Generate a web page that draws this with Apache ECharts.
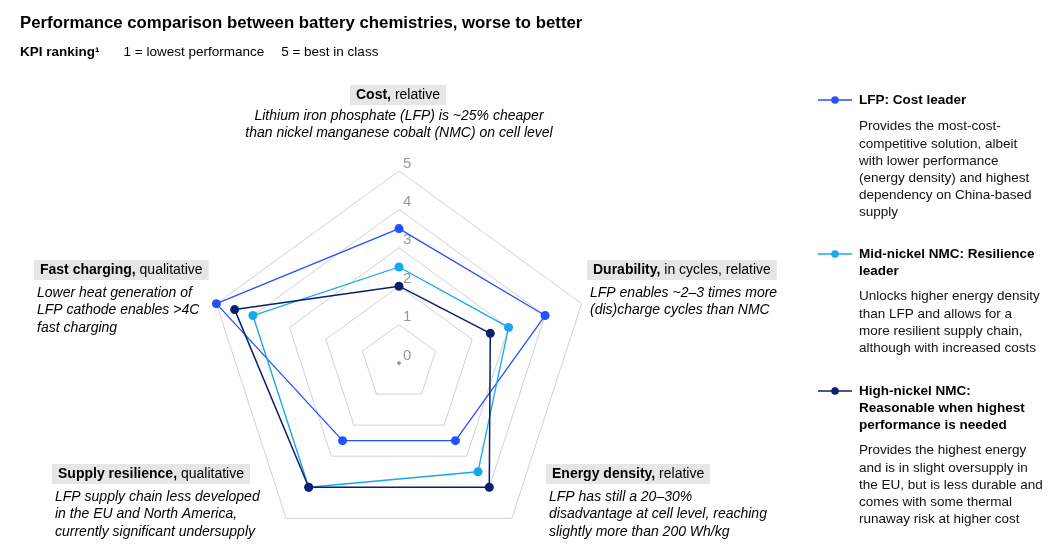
<!DOCTYPE html>
<html>
<head>
<meta charset="utf-8">
<script src="https://cdn.jsdelivr.net/npm/echarts@6/dist/echarts.min.js"></script>
<style>
html,body{margin:0;padding:0;background:#fff;}
#chart{width:1064px;height:557px;}
</style>
</head>
<body>
<div id="chart"></div>
<script>
// Indicators in ECharts (counter-clockwise) order: Cost, Fast charging, Supply resilience, Energy density, Durability
var categories = ['Cost', 'Fast charging', 'Supply resilience', 'Energy density', 'Durability'];
var lfpValues = [3.5, 5, 2.5, 2.5, 4];
var midNickelValues = [2.5, 4, 4, 3.5, 3];
var highNickelValues = [2, 4.5, 4, 4, 2.5];
var originValues = [0, 0, 0, 0, 0];
var seriesNames = ['LFP: Cost leader', 'Mid-nickel NMC: Resilience\nleader', 'High-nickel NMC:\nReasonable when highest\nperformance is needed'];
var seriesColors = ['#2251FF', '#14A8F0', '#0B1F6E'];
var seriesDescriptions = [
  'Provides the most-cost-\ncompetitive solution, albeit\nwith lower performance\n(energy density) and highest\ndependency on China-based\nsupply',
  'Unlocks higher energy density\nthan LFP and allows for a\nmore resilient supply chain,\nalthough with increased costs',
  'Provides the highest energy\nand is in slight oversupply in\nthe EU, but is less durable and\ncomes with some thermal\nrunaway risk at higher cost'
];
var axisTitles = [
  {bold: 'Cost,', normal: 'relative', note: 'Lithium iron phosphate (LFP) is ~25% cheaper\nthan nickel manganese cobalt (NMC) on cell level'},
  {bold: 'Fast charging,', normal: 'qualitative', note: 'Lower heat generation of\nLFP cathode enables >4C\nfast charging'},
  {bold: 'Supply resilience,', normal: 'qualitative', note: 'LFP supply chain less developed\nin the EU and North America,\ncurrently significant undersupply'},
  {bold: 'Energy density,', normal: 'relative', note: 'LFP has still a 20\u201330%\ndisadvantage at cell level, reaching\nslightly more than 200 Wh/kg'},
  {bold: 'Durability,', normal: 'in cycles, relative', note: 'LFP enables ~2\u20133 times more\n(dis)charge cycles than NMC'}
];
var valueMin = 0;
var valueMax = 5;

var FONT = 'Liberation Sans, Arial, sans-serif';

// layout for annotation blocks (same order as categories)
var axisTitleLayout = [
  {x: 398, y: 95, align: 'center', noteY: 107},
  {x: 34, y: 270, align: 'left', noteY: 284},
  {x: 52, y: 474, align: 'left', noteY: 488},
  {x: 546, y: 474, align: 'left', noteY: 488},
  {x: 587, y: 270, align: 'left', noteY: 284}
];
var legendLayout = [{y: 100, descY: 118}, {y: 254, descY: 288}, {y: 391, descY: 442}];

var indicators = categories.map(function (c, i) {
  var ind = {name: c, min: valueMin, max: valueMax};
  if (i === 0) {
    ind.axisLabel = {show: true, color: '#9a9a9a', fontSize: 15, fontFamily: FONT, margin: -4,
      align: 'left', verticalAlign: 'bottom', showMinLabel: true};
  }
  return ind;
});

var graphics = [];
axisTitles.forEach(function (t, i) {
  var L = axisTitleLayout[i];
  var noteX = L.align === 'center' ? L.x + 1 : L.x + 3;
  graphics.push({
    type: 'text', x: L.x, y: L.y, silent: true,
    style: {
      text: '{b|' + t.bold + '} {n|' + t.normal + '}',
      align: L.align, verticalAlign: 'middle',
      backgroundColor: '#e6e6e6', padding: [3, 6, 3, 6],
      rich: {
        b: {fontFamily: FONT, fontSize: 14, fontWeight: 'bold', fill: '#000'},
        n: {fontFamily: FONT, fontSize: 14, fill: '#000'}
      },
      fontFamily: FONT, fontSize: 14
    }
  });
  graphics.push({
    type: 'text', x: noteX, y: L.noteY, silent: true,
    style: {
      text: t.note, align: L.align, verticalAlign: 'top',
      fontFamily: FONT, fontSize: 14, fontStyle: 'italic', fill: '#000', lineHeight: 17.5
    }
  });
});

seriesNames.forEach(function (n, i) {
  var L = legendLayout[i];
  graphics.push({type: 'line', silent: true, shape: {x1: 818, y1: L.y, x2: 852, y2: L.y}, style: {stroke: seriesColors[i], lineWidth: 1.5}});
  graphics.push({type: 'circle', silent: true, shape: {cx: 835, cy: L.y, r: 3.8}, style: {fill: seriesColors[i]}});
  graphics.push({
    type: 'text', x: 859, y: L.y - 8.5, silent: true,
    style: {text: n, align: 'left', verticalAlign: 'top', fontFamily: FONT, fontSize: 13.5, fontWeight: 'bold', fill: '#000', lineHeight: 17.2}
  });
  graphics.push({
    type: 'text', x: 859, y: L.descY, silent: true,
    style: {text: seriesDescriptions[i], align: 'left', verticalAlign: 'top', fontFamily: FONT, fontSize: 13.5, fill: '#111', lineHeight: 17.2}
  });
});

var chart = echarts.init(document.getElementById('chart'), null, {renderer: 'canvas'});
chart.setOption({
  animation: false,
  backgroundColor: '#fff',
  title: {
    text: 'Performance comparison between battery chemistries, worse to better',
    left: 20, top: 15, padding: 0,
    textStyle: {fontFamily: FONT, fontSize: 16.8, fontWeight: 'bold', color: '#000'},
    subtext: '{b|KPI ranking\u00b9}{g1|}{n|1 = lowest performance}{g2|}{n|5 = best in class}',
    itemGap: 13,
    subtextStyle: {
      fontFamily: FONT, fontSize: 13.5, color: '#000',
      rich: {
        b: {fontFamily: FONT, fontSize: 13.5, fontWeight: 'bold', color: '#000'},
        n: {fontFamily: FONT, fontSize: 13.5, color: '#000'},
        g1: {width: 24},
        g2: {width: 17}
      }
    }
  },
  radar: {
    center: [399, 363],
    radius: 192,
    startAngle: 90,
    shape: 'polygon',
    splitNumber: 5,
    indicator: indicators,
    axisName: {show: false},
    axisLine: {show: false},
    axisTick: {show: false},
    axisLabel: {show: false},
    splitArea: {show: false},
    splitLine: {lineStyle: {color: '#d2d2d2', width: 1}}
  },
  graphic: {elements: graphics},
  series: [{
    type: 'radar',
    silent: true,
    data: [
      {value: originValues, name: 'origin', symbol: 'circle', symbolSize: 3,
        itemStyle: {color: '#999'}, lineStyle: {opacity: 0}},
      {value: lfpValues, name: seriesNames[0], symbol: 'circle', symbolSize: 9,
        itemStyle: {color: seriesColors[0]}, lineStyle: {color: seriesColors[0], width: 1.3}},
      {value: midNickelValues, name: seriesNames[1], symbol: 'circle', symbolSize: 9,
        itemStyle: {color: seriesColors[1]}, lineStyle: {color: seriesColors[1], width: 1.3}},
      {value: highNickelValues, name: seriesNames[2], symbol: 'circle', symbolSize: 9,
        itemStyle: {color: seriesColors[2]}, lineStyle: {color: seriesColors[2], width: 1.5}}
    ]
  }]
});
</script>
</body>
</html>
